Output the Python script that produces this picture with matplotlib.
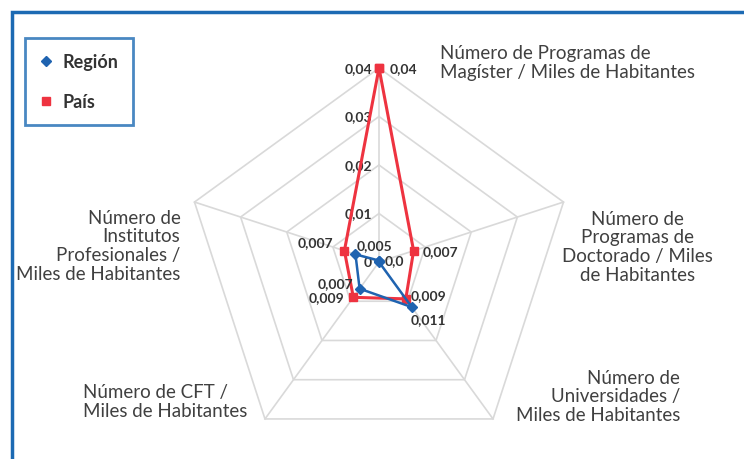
import numpy as np
import matplotlib
matplotlib.use('Agg')
import matplotlib.pyplot as plt
from matplotlib.lines import Line2D
from matplotlib.patches import Rectangle

plt.rcParams['font.family'] = ['Lato', 'DejaVu Sans']

# datos
categorias = ['Número de Programas de\nMagíster / Miles de Habitantes',
              'Número de\nProgramas de\nDoctorado / Miles\nde Habitantes',
              'Número de\nUniversidades /\nMiles de Habitantes',
              'Número de CFT /\nMiles de Habitantes',
              'Número de\nInstitutos\nProfesionales /\nMiles de Habitantes']
region = [0.0003, 0.0, 0.0115, 0.0068, 0.0051]
pais = [0.04, 0.0075, 0.0094, 0.009, 0.0075]
region_lbl = ['0,0', '', '0,011', '0,007', '0,005']
pais_lbl = ['0,04', '0,007', '0,009', '0,009', '0,007']
niveles = [0.0, 0.01, 0.02, 0.03, 0.04]
niveles_lbl = ['0', '0,01', '0,02', '0,03', '0,04']

azul = '#1f63b0'
rojo = '#ee3340'
gris_txt = '#404040'
W, H = 744, 460

fig = plt.figure(figsize=(W / 100, H / 100), dpi=100)

# marco azul (recortado)
fig.patches.append(Rectangle((11.5 / W, -0.2), 1.2, 1.2 - 13 / H, transform=fig.transFigure,
                             fill=False, edgecolor='#1c6ab3', lw=2.5, clip_on=False))

cx, cy, R = 379, 263, 194
ax = fig.add_axes([(cx - R) / W, (H - cy - R) / H, 2 * R / W, 2 * R / H], projection='polar')
ax.set_theta_zero_location('N')
ax.set_theta_direction(-1)
ax.set_ylim(0, 0.04)
ax.set_axis_off()

n = len(categorias)
ang = np.linspace(0, 2 * np.pi, n, endpoint=False)
ang_c = np.append(ang, ang[0])

# rejilla pentagonal
for lv in niveles[1:]:
    ax.plot(ang_c, [lv] * (n + 1), color='#d9d9d9', lw=1.2, clip_on=False, zorder=1)
for a in ang:
    ax.plot([a, a], [0, 0.04], color='#d9d9d9', lw=1.2, clip_on=False, zorder=1)

for lv, t in zip(niveles, niveles_lbl):
    ax.annotate(t, xy=(0, lv), xytext=(-7, 0), textcoords='offset pixels',
                ha='right', va='center', fontsize=10, fontweight='bold', color='#333333')

# series
ax.plot(ang_c, np.append(pais, pais[0]), color=rojo, lw=2.2, marker='s', ms=6,
        clip_on=False, zorder=3)
ax.plot(ang_c, np.append(region, region[0]), color=azul, lw=1.8, marker='D', ms=5,
        clip_on=False, zorder=4)

off_pais = [(11, 0, 'left'), (9, 0, 'left'), (5, 4, 'left'), (-9, 0, 'right'), (-11, 9, 'right')]
off_reg = [(6, 0, 'left'), (0, 0, 'left'), (-1, -12, 'left'), (-6, 6, 'right'), (1, 9, 'left')]
for a, v, t, (dx, dy, ha) in zip(ang, pais, pais_lbl, off_pais):
    ax.annotate(t, xy=(a, v), xytext=(dx, dy), textcoords='offset pixels', ha=ha, va='center',
                fontsize=10, fontweight='bold', color='#333333', zorder=5)
for a, v, t, (dx, dy, ha) in zip(ang, region, region_lbl, off_reg):
    if t:
        ax.annotate(t, xy=(a, v), xytext=(dx, dy), textcoords='offset pixels', ha=ha,
                    va='center', fontsize=10, fontweight='bold', color='#333333', zorder=5)

# etiquetas de categorias
off_cat = [(61, 6, 'left'), (74, -44, 'center'), (187, 23, 'right'), (-182, 18, 'left'),
           (-14, -43, 'right')]
for a, t, (dx, dy, ha) in zip(ang, categorias, off_cat):
    ax.annotate(t, xy=(a, 0.04), xytext=(dx, dy), textcoords='offset pixels', ha=ha,
                va='center', multialignment=ha, fontsize=13.5, color=gris_txt,
                linespacing=1.12, annotation_clip=False)

handles = [Line2D([], [], color=azul, marker='D', ls='None', ms=5),
           Line2D([], [], color=rojo, marker='s', ls='None', ms=6)]
leg = fig.legend(handles, ['Región', 'País'], loc='upper left',
                 bbox_to_anchor=(25 / W, 1 - 39 / H), borderaxespad=0, fancybox=False,
                 prop={'weight': 'bold', 'size': 13}, labelspacing=1.25, borderpad=0.85,
                 handlelength=0.6, handletextpad=0.6, frameon=True)
leg.get_frame().set_edgecolor('#1c6ab3')
leg.get_frame().set_linewidth(2)
for t in leg.get_texts():
    t.set_color('#333333')

fig.savefig('out.png', dpi=100)
